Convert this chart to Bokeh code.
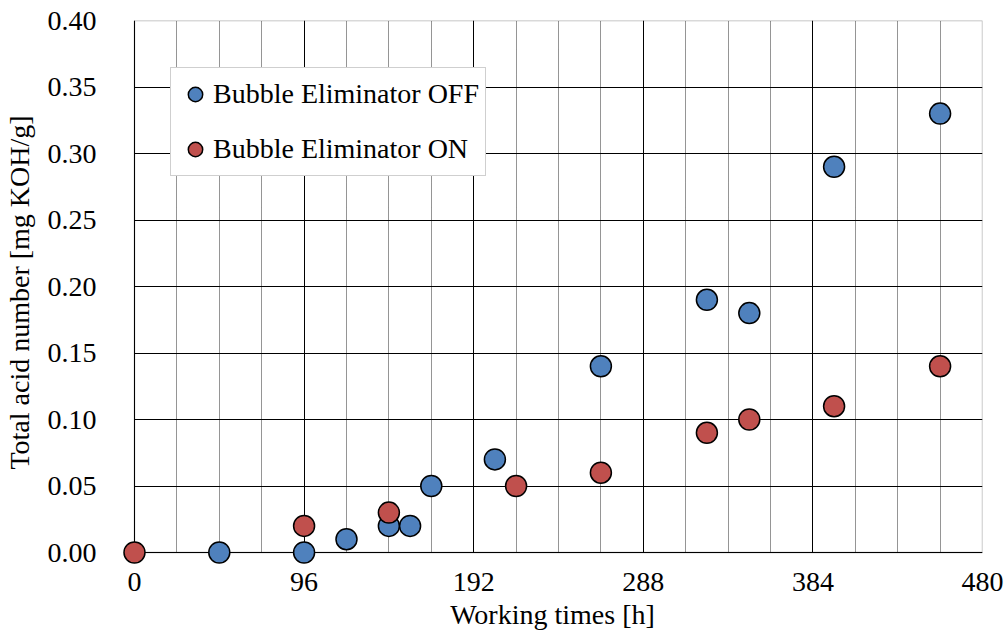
from bokeh.plotting import figure
from bokeh.models import (SingleIntervalTicker, Legend, LegendItem, ColumnDataSource,
                          NumeralTickFormatter, BoxAnnotation)
from bokeh.embed import file_html
from bokeh.resources import INLINE

# Data
off_hours = [48, 96, 120, 144, 156, 168, 204, 264, 324, 348, 396, 456]
off_tan = [0.00, 0.00, 0.01, 0.02, 0.02, 0.05, 0.07, 0.14, 0.19, 0.18, 0.29, 0.33]
on_hours = [0, 96, 144, 216, 264, 324, 348, 396, 456]
on_tan = [0.00, 0.02, 0.03, 0.05, 0.06, 0.09, 0.10, 0.11, 0.14]
x_ticks = [0, 96, 192, 288, 384, 480]
y_ticks = [0.00, 0.05, 0.10, 0.15, 0.20, 0.25, 0.30, 0.35, 0.40]
x_min, x_max = 0, 480
y_min, y_max = 0.0, 0.40

FONT = "'Liberation Serif'"
FS = "28px"
BLUE = "#4F81BD"
RED = "#C0504D"

# frame is padded by PAD px on the left and bottom so markers on the axes are not clipped
PAD = 12
W, H = 1008, 637
frame_left, frame_right, frame_top, frame_bottom = 133 - PAD, 982, 20, 552 + PAD
xpx = (frame_right - (frame_left + PAD)) / (x_max - x_min)
ypx = ((frame_bottom - PAD) - frame_top) / (y_max - y_min)

p = figure(width=W, height=H,
           x_range=(x_min - PAD / xpx, x_max), y_range=(y_min - PAD / ypx, y_max),
           output_backend="svg", toolbar_location=None,
           min_border_left=frame_left, min_border_right=W - frame_right,
           min_border_top=frame_top, min_border_bottom=H - frame_bottom)
p.background_fill_color = "white"
p.border_fill_color = "white"
p.outline_line_color = None

p.xaxis.ticker = SingleIntervalTicker(interval=96, num_minor_ticks=4)
p.yaxis.ticker = y_ticks
p.yaxis.formatter = NumeralTickFormatter(format="0.00")

for ax in (p.xaxis, p.yaxis):
    ax.axis_line_color = None
    ax.major_tick_line_color = None
    ax.minor_tick_line_color = None
    ax.major_label_text_font = FONT
    ax.major_label_text_font_size = FS
    ax.major_label_text_color = "black"
    ax.axis_label_text_font = FONT
    ax.axis_label_text_font_size = FS
    ax.axis_label_text_font_style = "normal"
    ax.axis_label_text_color = "black"

p.xaxis.major_label_standoff = 14 - PAD
p.xaxis.axis_label = "Working times [h]"
p.xaxis.axis_label_standoff = 5
p.yaxis.major_label_standoff = 32 - PAD
p.yaxis.axis_label = "Total acid number [mg KOH/g]"
p.yaxis.axis_label_standoff = 10

p.xgrid.bounds = (x_min, x_max)
p.xgrid.cross_bounds = (y_min, y_max)
p.ygrid.bounds = (y_min, y_max)
p.ygrid.cross_bounds = (x_min, x_max)
p.xgrid.grid_line_color = "black"
p.xgrid.grid_line_width = 1
p.xgrid.minor_grid_line_color = "#2a2a2a"
p.xgrid.minor_grid_line_dash = "1 1"
p.xgrid.minor_grid_line_width = 1
p.ygrid.grid_line_color = "black"
p.ygrid.grid_line_width = 1

box = BoxAnnotation(left=x_min, right=x_max, bottom=y_min, top=y_max,
                    fill_color=None, line_color="black", line_width=1.4, level="underlay")
p.add_layout(box)

src_off = ColumnDataSource(dict(x=off_hours, y=off_tan))
src_on = ColumnDataSource(dict(x=on_hours, y=on_tan))
r_off = p.scatter("x", "y", source=src_off, size=21, fill_color=BLUE,
                  line_color="black", line_width=1.5)
r_on = p.scatter("x", "y", source=src_on, size=21, fill_color=RED,
                 line_color="black", line_width=1.5)

leg_left, leg_bottom = 169, 176
legend = Legend(items=[LegendItem(label="Bubble Eliminator OFF", renderers=[r_off]),
                       LegendItem(label="Bubble Eliminator ON", renderers=[r_on])],
                location=(leg_left - frame_left, frame_bottom - leg_bottom))
legend.label_text_font = FONT
legend.label_text_font_size = FS
legend.label_text_color = "black"
legend.glyph_width = 36
legend.glyph_height = 40
legend.label_height = 40
legend.spacing = 15
legend.padding = 6
legend.margin = 0
legend.label_standoff = 0
legend.border_line_color = "#A0A0A0"
legend.border_line_width = 1.5
legend.background_fill_color = "white"
legend.background_fill_alpha = 1.0
p.add_layout(legend)

open("out.html", "w").write(file_html(p, INLINE))
